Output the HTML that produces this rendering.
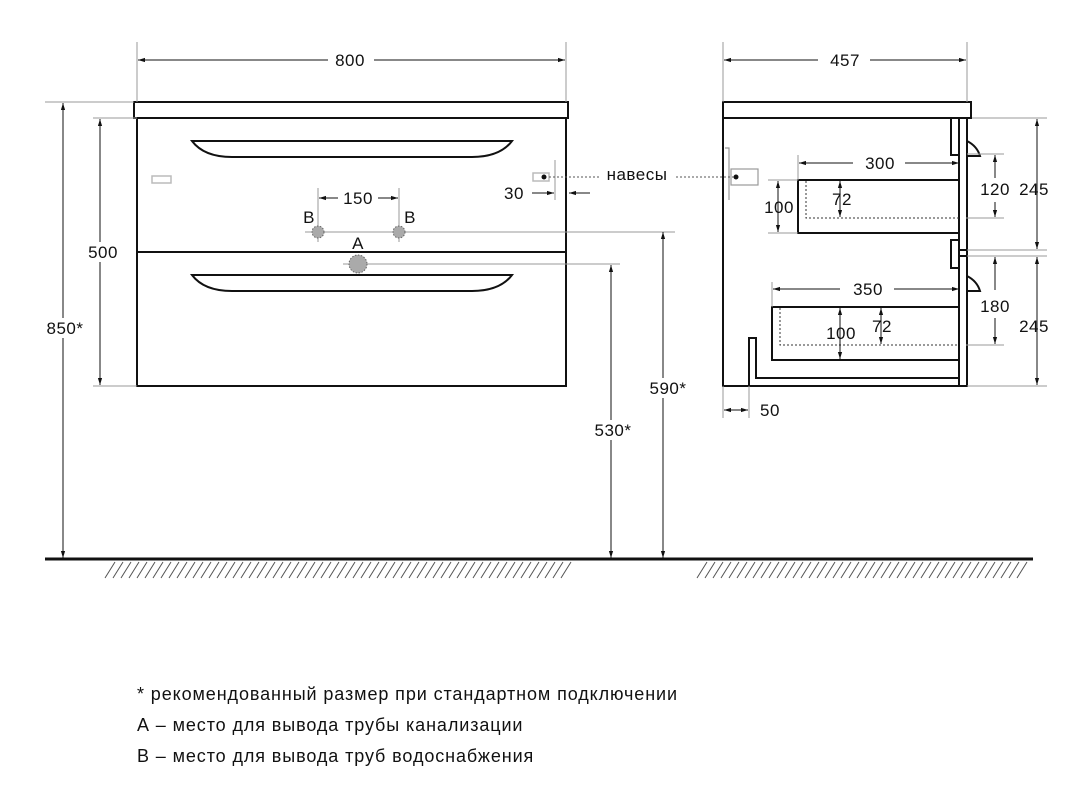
<!DOCTYPE html>
<html><head><meta charset="utf-8"><style>
html,body{margin:0;padding:0;background:#fff;}
svg{display:block;font-family:"Liberation Sans",sans-serif;}
</style></head><body>
<svg width="1083" height="800" viewBox="0 0 1083 800" xmlns="http://www.w3.org/2000/svg">
<defs>
<marker id="a" viewBox="0 0 10 10" refX="10" refY="5" markerWidth="7" markerHeight="7" orient="auto-start-reverse"><path d="M0,2 L10,5 L0,8 z" fill="#111"/></marker>
</defs>
<g stroke="#111" stroke-width="2" fill="#fff">
<rect x="134" y="102" width="434" height="16"/>
<rect x="137" y="118" width="429" height="268"/>
<line x1="137" y1="252" x2="566" y2="252"/>
<path d="M192,141 L512,141 Q500,157 472,157 L232,157 Q204,157 192,141 Z" fill="none"/>
<path d="M192,275 L512,275 Q500,291 472,291 L232,291 Q204,291 192,275 Z" fill="none"/>
</g>
<g stroke="#bbb" stroke-width="1.5" fill="#fff"><rect x="152" y="176" width="19" height="7"/><rect x="533" y="173" width="16" height="8"/></g>
<circle cx="544" cy="177" r="2.5" fill="#111"/>
<g stroke="#111" stroke-width="2" fill="#fff">
<rect x="723" y="102" width="248" height="16"/>
<rect x="723" y="118" width="244" height="268"/>
<rect x="959" y="118" width="8" height="268"/>
<rect x="951" y="118" width="8" height="37"/>
<rect x="951" y="240" width="8" height="28"/>
<rect x="959" y="250" width="8" height="6"/>
<path d="M967,141 Q977,146 980,156 L967,156" fill="none"/>
<path d="M967,276 Q977,281 980,291 L967,291" fill="none"/>
<rect x="798" y="180" width="161" height="53"/>
<rect x="772" y="307" width="187" height="53"/>
<path d="M749,386 L749,338 L756,338 L756,378 L959,378" fill="none"/>
</g>
<g stroke="#333" stroke-width="1" fill="none" stroke-dasharray="2,2">
<path d="M806,181 L806,218 L959,218"/><path d="M780,308 L780,345 L959,345"/>
</g>
<g stroke="#999" stroke-width="1.2" fill="#fff"><rect x="731" y="169" width="27" height="16"/><path d="M725,148 L729,148 L729,200"/></g>
<circle cx="736" cy="177" r="2.5" fill="#111"/>
<g stroke="#999" stroke-width="1" fill="none">
<line x1="137" y1="42" x2="137" y2="102"/><line x1="566" y1="42" x2="566" y2="102"/>
<line x1="45" y1="102" x2="134" y2="102"/>
<line x1="93" y1="118" x2="137" y2="118"/><line x1="93" y1="386" x2="137" y2="386"/>
<line x1="318" y1="188" x2="318" y2="242"/><line x1="399" y1="188" x2="399" y2="242"/>
<line x1="305" y1="232" x2="675" y2="232"/><line x1="343" y1="264" x2="620" y2="264"/>
<line x1="555" y1="160" x2="555" y2="200"/>
<line x1="723" y1="42" x2="723" y2="102"/><line x1="967" y1="42" x2="967" y2="102"/>
<line x1="798" y1="155" x2="798" y2="180"/><line x1="772" y1="282" x2="772" y2="307"/>
<line x1="768" y1="180" x2="798" y2="180"/><line x1="768" y1="233" x2="798" y2="233"/>
<line x1="967" y1="154" x2="1004" y2="154"/><line x1="966" y1="218" x2="1004" y2="218"/>
<line x1="972" y1="118" x2="1047" y2="118"/><line x1="967" y1="250" x2="1047" y2="250"/><line x1="967" y1="256" x2="1047" y2="256"/><line x1="967" y1="386" x2="1047" y2="386"/>
<line x1="966" y1="345" x2="1004" y2="345"/>
<line x1="723" y1="386" x2="723" y2="418"/><line x1="749" y1="386" x2="749" y2="418"/>
</g>
<g fill="#aaa" stroke="#666" stroke-width="1" stroke-dasharray="1.5,1.5">
<circle cx="318" cy="232" r="6"/><circle cx="399" cy="232" r="6"/><circle cx="358" cy="264" r="9"/>
</g>
<g stroke="#555" stroke-width="1" fill="none" stroke-dasharray="2,2">
<line x1="549" y1="177" x2="600" y2="177"/><line x1="676" y1="177" x2="735" y2="177"/>
</g>
<g stroke="#111" stroke-width="1" fill="none" marker-start="url(#a)" marker-end="url(#a)">
<line x1="138" y1="60" x2="328" y2="60" marker-end="none"/><line x1="374" y1="60" x2="565" y2="60" marker-start="none"/>
<line x1="63" y1="103" x2="63" y2="558"/>
<line x1="100" y1="119" x2="100" y2="385"/>
<line x1="663" y1="232" x2="663" y2="558"/>
<line x1="611" y1="265" x2="611" y2="558"/>
<line x1="319" y1="198" x2="338" y2="198" marker-end="none"/><line x1="378" y1="198" x2="398" y2="198" marker-start="none"/>
<line x1="724" y1="60" x2="818" y2="60" marker-end="none"/><line x1="870" y1="60" x2="966" y2="60" marker-start="none"/>
<line x1="799" y1="163" x2="853" y2="163" marker-end="none"/><line x1="905" y1="163" x2="959" y2="163" marker-start="none"/>
<line x1="773" y1="289" x2="840" y2="289" marker-end="none"/><line x1="894" y1="289" x2="959" y2="289" marker-start="none"/>
<line x1="778" y1="181" x2="778" y2="232"/>
<line x1="840" y1="181" x2="840" y2="217"/>
<line x1="995" y1="155" x2="995" y2="178" marker-end="none"/><line x1="995" y1="202" x2="995" y2="217" marker-start="none"/>
<line x1="1037" y1="119" x2="1037" y2="249"/>
<line x1="1037" y1="257" x2="1037" y2="385"/>
<line x1="995" y1="257" x2="995" y2="290" marker-end="none"/><line x1="995" y1="318" x2="995" y2="344" marker-start="none"/>
<line x1="840" y1="308" x2="840" y2="359"/>
<line x1="881" y1="308" x2="881" y2="344"/>
<line x1="724" y1="410" x2="748" y2="410"/>
<line x1="532" y1="193" x2="554" y2="193" marker-start="none"/><line x1="590" y1="193" x2="569" y2="193" marker-start="none"/>
</g>
<line x1="45" y1="559" x2="1033" y2="559" stroke="#111" stroke-width="3"/>
<g stroke="#555" stroke-width="1">
<path d="M105,578 L115,562 M113,578 L123,562 M121,578 L131,562 M129,578 L139,562 M137,578 L147,562 M145,578 L155,562 M153,578 L163,562 M161,578 L171,562 M169,578 L179,562 M177,578 L187,562 M185,578 L195,562 M193,578 L203,562 M201,578 L211,562 M209,578 L219,562 M217,578 L227,562 M225,578 L235,562 M233,578 L243,562 M241,578 L251,562 M249,578 L259,562 M257,578 L267,562 M265,578 L275,562 M273,578 L283,562 M281,578 L291,562 M289,578 L299,562 M297,578 L307,562 M305,578 L315,562 M313,578 L323,562 M321,578 L331,562 M329,578 L339,562 M337,578 L347,562 M345,578 L355,562 M353,578 L363,562 M361,578 L371,562 M369,578 L379,562 M377,578 L387,562 M385,578 L395,562 M393,578 L403,562 M401,578 L411,562 M409,578 L419,562 M417,578 L427,562 M425,578 L435,562 M433,578 L443,562 M441,578 L451,562 M449,578 L459,562 M457,578 L467,562 M465,578 L475,562 M473,578 L483,562 M481,578 L491,562 M489,578 L499,562 M497,578 L507,562 M505,578 L515,562 M513,578 L523,562 M521,578 L531,562 M529,578 L539,562 M537,578 L547,562 M545,578 L555,562 M553,578 L563,562 M561,578 L571,562"/>
<path d="M697,578 L707,562 M705,578 L715,562 M713,578 L723,562 M721,578 L731,562 M729,578 L739,562 M737,578 L747,562 M745,578 L755,562 M753,578 L763,562 M761,578 L771,562 M769,578 L779,562 M777,578 L787,562 M785,578 L795,562 M793,578 L803,562 M801,578 L811,562 M809,578 L819,562 M817,578 L827,562 M825,578 L835,562 M833,578 L843,562 M841,578 L851,562 M849,578 L859,562 M857,578 L867,562 M865,578 L875,562 M873,578 L883,562 M881,578 L891,562 M889,578 L899,562 M897,578 L907,562 M905,578 L915,562 M913,578 L923,562 M921,578 L931,562 M929,578 L939,562 M937,578 L947,562 M945,578 L955,562 M953,578 L963,562 M961,578 L971,562 M969,578 L979,562 M977,578 L987,562 M985,578 L995,562 M993,578 L1003,562 M1001,578 L1011,562 M1009,578 L1019,562 M1017,578 L1027,562"/>
</g>
<g font-size="17" fill="#111" text-anchor="middle" letter-spacing="0.5">
<text x="350" y="66">800</text>
<rect x="43" y="318" width="44" height="20" fill="#fff"/><text x="65" y="334">850*</text>
<rect x="85" y="242" width="36" height="20" fill="#fff"/><text x="103" y="258">500</text>
<rect x="645" y="378" width="46" height="20" fill="#fff"/><text x="668" y="394">590*</text>
<rect x="591" y="420" width="44" height="20" fill="#fff"/><text x="613" y="436">530*</text>
<text x="358" y="204">150</text>
<text x="309" y="223">B</text><text x="410" y="223">B</text>
<text x="358" y="249">A</text>
<text x="514" y="199">30</text>
<text x="637" y="180">навесы</text>
<text x="845" y="66">457</text>
<text x="880" y="169">300</text>
<text x="868" y="295">350</text>
<text x="779" y="213">100</text>
<text x="842" y="205">72</text>
<text x="995" y="195">120</text>
<text x="1034" y="195">245</text>
<text x="995" y="312">180</text>
<text x="1034" y="332">245</text>
<text x="841" y="339">100</text>
<text x="882" y="332">72</text>
<text x="770" y="416">50</text>
</g>
<g font-size="18" fill="#111" letter-spacing="0.9">
<text x="137" y="700">* рекомендованный размер при стандартном подключении</text>
<text x="137" y="731">А – место для вывода трубы канализации</text>
<text x="137" y="762">В – место для вывода труб водоснабжения</text>
</g>
</svg>
</body></html>
